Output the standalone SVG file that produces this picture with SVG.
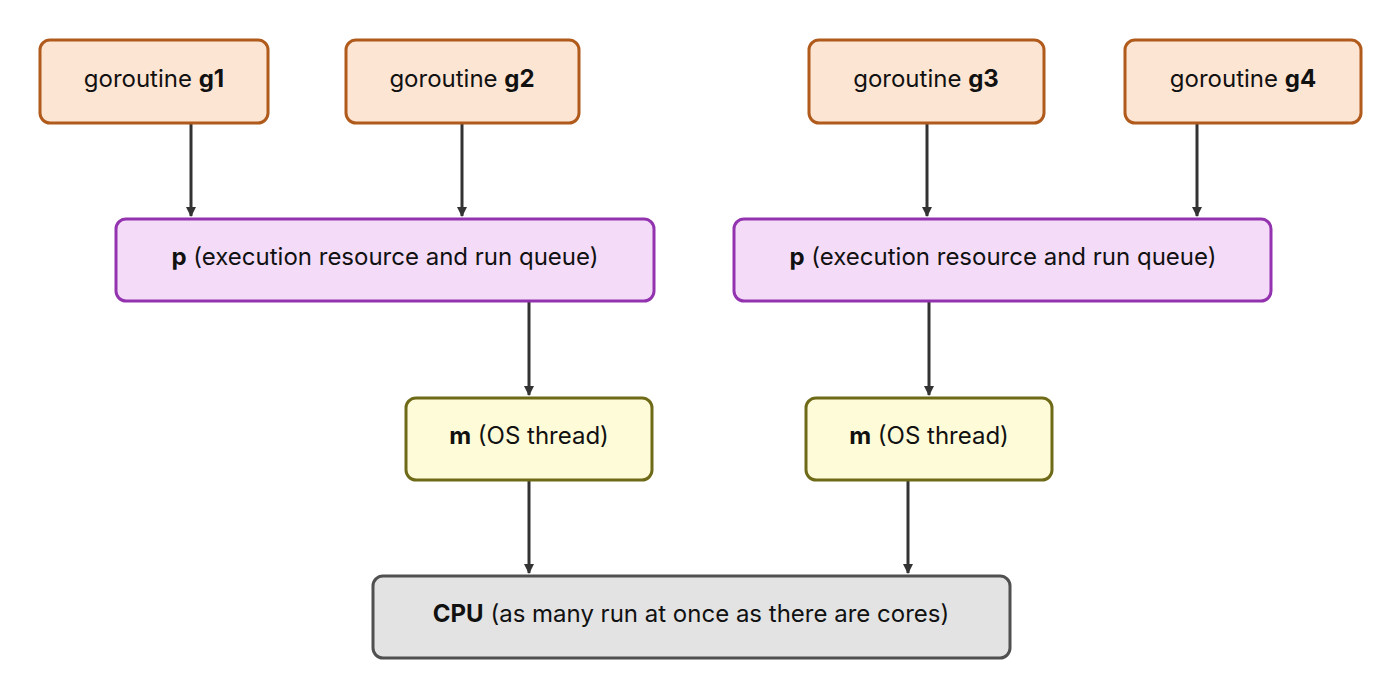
<svg xmlns="http://www.w3.org/2000/svg" width="1400" height="700" viewBox="0 0 1400 700">
<style>
text{font-family:Inter,"Noto Sans",sans-serif;font-size:24px;fill:#111;text-anchor:middle;dominant-baseline:central}
.b{font-weight:bold}
.g{fill:#fde5d4;stroke:#b05a1c;stroke-width:3}
.p{fill:#f4dcf9;stroke:#9433b0;stroke-width:3}
.m{fill:#fefbd8;stroke:#6e6a17;stroke-width:3}
.c{fill:#e3e3e3;stroke:#505050;stroke-width:3}
.e{stroke:#333;stroke-width:3;fill:none;marker-end:url(#a)}
</style>
<defs><marker id="a" markerWidth="10" markerHeight="10" refX="9" refY="5" orient="auto" markerUnits="userSpaceOnUse" viewBox="0 0 10 10"><path d="M0,0 L10,5 L0,10 z" fill="#333" transform="scale(1)"/></marker></defs>
<rect width="1400" height="700" fill="#fff"/>
<g id="connectors">
<path class="e" d="M191,124 V216"/>
<path class="e" d="M462,124 V216"/>
<path class="e" d="M927,124 V216"/>
<path class="e" d="M1197,124 V216"/>
<path class="e" d="M529,302 V395"/>
<path class="e" d="M929,302 V395"/>
<path class="e" d="M529,481 V573"/>
<path class="e" d="M908,481 V573"/>
</g>
<g id="g1"><rect class="g" x="40" y="40" width="228" height="83" rx="10"/><text x="154" y="78">goroutine <tspan class="b">g1</tspan></text></g>
<g id="g2"><rect class="g" x="346" y="40" width="233" height="83" rx="10"/><text x="462" y="78">goroutine <tspan class="b">g2</tspan></text></g>
<g id="g3"><rect class="g" x="809" y="40" width="235" height="83" rx="10"/><text x="926" y="78">goroutine <tspan class="b">g3</tspan></text></g>
<g id="g4"><rect class="g" x="1125" y="40" width="236" height="83" rx="10"/><text x="1243" y="78">goroutine <tspan class="b">g4</tspan></text></g>
<g id="p1"><rect class="p" x="116" y="219" width="538" height="82" rx="10"/><text x="385" y="256"><tspan class="b">p</tspan> (execution resource and run queue)</text></g>
<g id="p2"><rect class="p" x="734" y="219" width="537" height="82" rx="10"/><text x="1003" y="256"><tspan class="b">p</tspan> (execution resource and run queue)</text></g>
<g id="m1"><rect class="m" x="406" y="398" width="246" height="82" rx="10"/><text x="529" y="435"><tspan class="b">m</tspan> (OS thread)</text></g>
<g id="m2"><rect class="m" x="806" y="398" width="246" height="82" rx="10"/><text x="929" y="435"><tspan class="b">m</tspan> (OS thread)</text></g>
<g id="cpu"><rect class="c" x="373" y="576" width="637" height="82" rx="10"/><text x="691" y="613"><tspan class="b">CPU</tspan> (as many run at once as there are cores)</text></g>
</svg>
